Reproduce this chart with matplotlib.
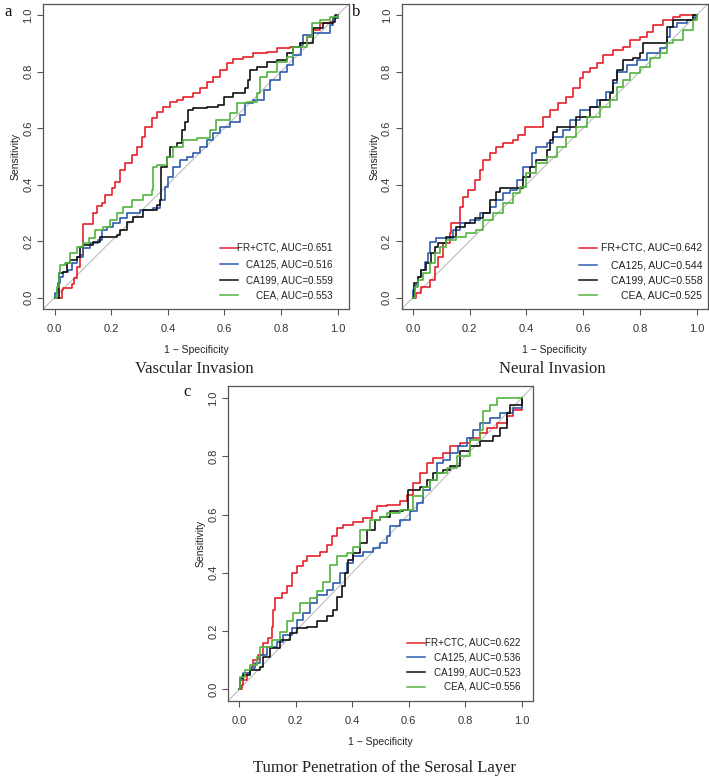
import matplotlib
matplotlib.use("Agg")
import matplotlib.pyplot as plt

# ---------------- data (FPR = 1 - specificity, TPR = sensitivity) ----------------
labels = ["FR+CTC", "CA125", "CA199", "CEA"]
colors = ["#e8202a", "#2f5cae", "#111111", "#52b43f"]
ticks = [0.0, 0.2, 0.4, 0.6, 0.8, 1.0]
tick_labels = ["0.0", "0.2", "0.4", "0.6", "0.8", "1.0"]

titles = ["Vascular Invasion", "Neural Invasion", "Tumor Penetration of the Serosal Layer"]
panel_letters = ["a", "b", "c"]

auc_a = [0.651, 0.516, 0.559, 0.553]
auc_b = [0.642, 0.544, 0.558, 0.525]
auc_c = [0.622, 0.536, 0.523, 0.556]

# Panel a
a_red_x = [0, 0.025, 0.027, 0.031, 0.06, 0.07, 0.078, 0.09, 0.1, 0.102, 0.12, 0.137, 0.149, 0.167, 0.178, 0.202, 0.214, 0.231, 0.249, 0.272, 0.29, 0.308, 0.32, 0.343, 0.361, 0.384, 0.408, 0.432, 0.455, 0.49, 0.514, 0.537, 0.561, 0.585, 0.608, 0.632, 0.667, 0.702, 0.749, 0.784, 0.831, 0.867, 0.89, 0.914, 0.937, 0.973, 0.984, 1.0]
a_red_y = [0, 0, 0.027, 0.033, 0.05, 0.068, 0.11, 0.15, 0.19, 0.26, 0.26, 0.3, 0.324, 0.334, 0.363, 0.387, 0.41, 0.452, 0.475, 0.505, 0.534, 0.57, 0.605, 0.634, 0.658, 0.676, 0.693, 0.699, 0.711, 0.723, 0.741, 0.764, 0.782, 0.805, 0.829, 0.843, 0.853, 0.864, 0.87, 0.882, 0.886, 0.9, 0.923, 0.947, 0.97, 0.976, 0.988, 1.0]
a_blue_x = [0, 0, 0.008, 0.014, 0.019, 0.031, 0.048, 0.06, 0.078, 0.102, 0.125, 0.155, 0.167, 0.184, 0.208, 0.231, 0.255, 0.302, 0.349, 0.373, 0.39, 0.402, 0.42, 0.443, 0.467, 0.49, 0.514, 0.537, 0.561, 0.584, 0.62, 0.655, 0.673, 0.702, 0.739, 0.762, 0.796, 0.82, 0.843, 0.872, 0.879, 0.914, 0.961, 0.973, 0.984, 1.0]
a_blue_y = [0, 0.015, 0.027, 0.051, 0.074, 0.092, 0.098, 0.121, 0.145, 0.175, 0.192, 0.204, 0.24, 0.251, 0.263, 0.281, 0.298, 0.31, 0.316, 0.346, 0.393, 0.428, 0.463, 0.487, 0.499, 0.511, 0.534, 0.558, 0.581, 0.605, 0.623, 0.646, 0.688, 0.699, 0.735, 0.77, 0.8, 0.823, 0.858, 0.894, 0.929, 0.935, 0.935, 0.965, 0.988, 1.0]
a_black_x = [0, 0.017, 0.017, 0.031, 0.043, 0.055, 0.078, 0.09, 0.102, 0.137, 0.16, 0.22, 0.231, 0.255, 0.278, 0.314, 0.361, 0.373, 0.375, 0.396, 0.408, 0.432, 0.45, 0.461, 0.473, 0.49, 0.537, 0.579, 0.597, 0.632, 0.673, 0.685, 0.69, 0.714, 0.749, 0.785, 0.82, 0.843, 0.867, 0.914, 0.949, 0.984, 0.99, 1.0]
a_black_y = [0, 0, 0.086, 0.092, 0.121, 0.133, 0.145, 0.18, 0.186, 0.198, 0.213, 0.222, 0.24, 0.269, 0.287, 0.31, 0.328, 0.346, 0.463, 0.499, 0.534, 0.546, 0.593, 0.623, 0.664, 0.67, 0.676, 0.682, 0.711, 0.723, 0.741, 0.77, 0.805, 0.817, 0.835, 0.841, 0.864, 0.888, 0.9, 0.953, 0.97, 0.976, 1.0, 1.0]
a_green_x = [0, 0.008, 0.017, 0.019, 0.037, 0.055, 0.078, 0.102, 0.12, 0.143, 0.172, 0.196, 0.22, 0.243, 0.272, 0.314, 0.343, 0.349, 0.361, 0.396, 0.42, 0.455, 0.502, 0.549, 0.572, 0.62, 0.643, 0.678, 0.714, 0.725, 0.749, 0.784, 0.82, 0.843, 0.89, 0.908, 0.937, 0.973, 1.0]
a_green_y = [0, 0.039, 0.086, 0.116, 0.121, 0.157, 0.18, 0.192, 0.21, 0.24, 0.251, 0.275, 0.298, 0.322, 0.346, 0.363, 0.381, 0.463, 0.469, 0.499, 0.534, 0.558, 0.564, 0.593, 0.628, 0.652, 0.688, 0.693, 0.723, 0.782, 0.8, 0.835, 0.853, 0.888, 0.923, 0.97, 0.982, 0.994, 1.0]

# Panel b
b_red_x = [0, 0.012, 0.029, 0.059, 0.076, 0.088, 0.106, 0.129, 0.135, 0.153, 0.165, 0.176, 0.194, 0.218, 0.235, 0.247, 0.271, 0.294, 0.318, 0.353, 0.371, 0.394, 0.429, 0.459, 0.482, 0.512, 0.541, 0.565, 0.588, 0.6, 0.624, 0.647, 0.671, 0.706, 0.741, 0.765, 0.8, 0.824, 0.847, 0.882, 0.918, 0.941, 1.0]
b_red_y = [0, 0.015, 0.039, 0.062, 0.11, 0.145, 0.192, 0.228, 0.263, 0.263, 0.322, 0.357, 0.381, 0.416, 0.452, 0.487, 0.511, 0.534, 0.546, 0.558, 0.575, 0.605, 0.605, 0.64, 0.664, 0.688, 0.711, 0.741, 0.776, 0.8, 0.811, 0.829, 0.858, 0.876, 0.888, 0.912, 0.923, 0.941, 0.965, 0.982, 0.994, 1.0, 1.0]
b_blue_x = [0, 0, 0.006, 0.018, 0.029, 0.041, 0.053, 0.059, 0.082, 0.118, 0.141, 0.165, 0.2, 0.235, 0.271, 0.294, 0.318, 0.341, 0.365, 0.388, 0.418, 0.435, 0.471, 0.494, 0.529, 0.553, 0.588, 0.624, 0.647, 0.682, 0.706, 0.718, 0.753, 0.788, 0.824, 0.871, 0.894, 0.906, 0.929, 0.965, 0.994, 1.0]
b_blue_y = [0, 0.027, 0.045, 0.074, 0.098, 0.127, 0.157, 0.198, 0.21, 0.21, 0.24, 0.263, 0.275, 0.298, 0.322, 0.346, 0.369, 0.381, 0.416, 0.463, 0.511, 0.534, 0.546, 0.57, 0.593, 0.628, 0.664, 0.676, 0.699, 0.729, 0.758, 0.8, 0.823, 0.841, 0.864, 0.882, 0.923, 0.959, 0.97, 0.982, 0.994, 1.0]
b_black_x = [0, 0.004, 0.018, 0.029, 0.047, 0.065, 0.076, 0.088, 0.118, 0.153, 0.182, 0.218, 0.247, 0.271, 0.294, 0.306, 0.365, 0.388, 0.412, 0.435, 0.471, 0.482, 0.494, 0.506, 0.541, 0.576, 0.624, 0.659, 0.694, 0.706, 0.718, 0.741, 0.776, 0.8, 0.812, 0.859, 0.894, 0.918, 0.953, 0.988, 1.0]
b_black_y = [0, 0.051, 0.074, 0.098, 0.121, 0.157, 0.18, 0.192, 0.216, 0.251, 0.263, 0.281, 0.298, 0.346, 0.375, 0.387, 0.387, 0.428, 0.463, 0.487, 0.522, 0.558, 0.587, 0.605, 0.605, 0.64, 0.676, 0.699, 0.723, 0.77, 0.805, 0.841, 0.847, 0.864, 0.9, 0.9, 0.959, 0.982, 0.982, 1.0, 1.0]
b_green_x = [0, 0.006, 0.018, 0.035, 0.059, 0.076, 0.094, 0.118, 0.153, 0.188, 0.224, 0.247, 0.282, 0.318, 0.353, 0.376, 0.4, 0.435, 0.471, 0.506, 0.541, 0.576, 0.612, 0.659, 0.694, 0.718, 0.741, 0.765, 0.8, 0.835, 0.871, 0.894, 0.918, 0.953, 0.988, 1.0]
b_green_y = [0, 0.039, 0.062, 0.086, 0.121, 0.157, 0.18, 0.204, 0.216, 0.228, 0.24, 0.275, 0.298, 0.334, 0.369, 0.393, 0.44, 0.475, 0.499, 0.534, 0.57, 0.605, 0.64, 0.676, 0.699, 0.746, 0.77, 0.794, 0.817, 0.847, 0.864, 0.9, 0.912, 0.947, 0.982, 1.0]

# Panel c
c_red_x = [0, 0.008, 0.014, 0.026, 0.038, 0.05, 0.067, 0.085, 0.103, 0.115, 0.12, 0.126, 0.15, 0.168, 0.185, 0.203, 0.227, 0.238, 0.262, 0.286, 0.309, 0.327, 0.345, 0.368, 0.404, 0.439, 0.469, 0.486, 0.522, 0.569, 0.593, 0.616, 0.64, 0.663, 0.687, 0.723, 0.746, 0.781, 0.817, 0.852, 0.876, 0.911, 0.947, 0.97, 1.0, 1.0]
c_red_y = [0, 0.015, 0.032, 0.055, 0.078, 0.1, 0.118, 0.158, 0.175, 0.215, 0.273, 0.313, 0.33, 0.353, 0.399, 0.422, 0.439, 0.456, 0.456, 0.473, 0.496, 0.525, 0.553, 0.565, 0.576, 0.588, 0.611, 0.628, 0.633, 0.645, 0.668, 0.708, 0.742, 0.777, 0.794, 0.811, 0.834, 0.845, 0.863, 0.88, 0.897, 0.914, 0.937, 0.96, 0.977, 1.0]
c_blue_x = [0, 0.002, 0.014, 0.038, 0.055, 0.073, 0.097, 0.132, 0.156, 0.185, 0.203, 0.227, 0.25, 0.274, 0.309, 0.333, 0.357, 0.38, 0.404, 0.439, 0.475, 0.498, 0.522, 0.534, 0.569, 0.604, 0.628, 0.652, 0.675, 0.699, 0.723, 0.746, 0.776, 0.805, 0.829, 0.852, 0.888, 0.923, 0.959, 0.97, 1.0]
c_blue_y = [0, 0.032, 0.055, 0.072, 0.089, 0.118, 0.147, 0.164, 0.187, 0.21, 0.238, 0.261, 0.296, 0.324, 0.341, 0.364, 0.399, 0.433, 0.456, 0.473, 0.485, 0.502, 0.525, 0.559, 0.582, 0.611, 0.639, 0.685, 0.719, 0.777, 0.788, 0.811, 0.834, 0.863, 0.891, 0.914, 0.931, 0.948, 0.948, 0.966, 1.0]
c_black_x = [0, 0.002, 0.014, 0.038, 0.073, 0.085, 0.109, 0.144, 0.179, 0.203, 0.238, 0.274, 0.309, 0.333, 0.345, 0.362, 0.374, 0.386, 0.404, 0.427, 0.451, 0.481, 0.498, 0.534, 0.581, 0.599, 0.64, 0.663, 0.687, 0.723, 0.746, 0.782, 0.817, 0.852, 0.9, 0.923, 0.947, 0.959, 0.988, 1.0]
c_black_y = [0, 0.038, 0.049, 0.066, 0.078, 0.112, 0.141, 0.17, 0.192, 0.21, 0.215, 0.233, 0.25, 0.273, 0.318, 0.353, 0.399, 0.444, 0.467, 0.502, 0.548, 0.582, 0.593, 0.611, 0.616, 0.685, 0.696, 0.719, 0.742, 0.754, 0.765, 0.817, 0.834, 0.851, 0.868, 0.897, 0.948, 0.977, 0.977, 1.0]
c_green_x = [0, 0.002, 0.02, 0.038, 0.061, 0.073, 0.115, 0.144, 0.168, 0.191, 0.215, 0.25, 0.274, 0.298, 0.321, 0.345, 0.38, 0.404, 0.427, 0.463, 0.498, 0.522, 0.569, 0.616, 0.652, 0.675, 0.699, 0.734, 0.77, 0.817, 0.852, 0.864, 0.888, 0.911, 1.0]
c_green_y = [0, 0.044, 0.066, 0.084, 0.112, 0.147, 0.17, 0.198, 0.233, 0.261, 0.296, 0.313, 0.336, 0.37, 0.427, 0.456, 0.467, 0.49, 0.548, 0.582, 0.593, 0.605, 0.616, 0.662, 0.696, 0.719, 0.742, 0.759, 0.8, 0.857, 0.891, 0.954, 0.977, 1.0, 1.0]

panels = [
    ([(a_red_x, a_red_y), (a_blue_x, a_blue_y), (a_black_x, a_black_y), (a_green_x, a_green_y)], auc_a),
    ([(b_red_x, b_red_y), (b_blue_x, b_blue_y), (b_black_x, b_black_y), (b_green_x, b_green_y)], auc_b),
    ([(c_red_x, c_red_y), (c_blue_x, c_blue_y), (c_black_x, c_black_y), (c_green_x, c_green_y)], auc_c),
]

# ---------------- layout ----------------
W, H = 709, 778
fig = plt.figure(figsize=(W / 100, H / 100), dpi=100)

def px_axes(left, top, right, bottom):
    return [left / W, 1 - bottom / H, (right - left) / W, (bottom - top) / H]

axes_px = [(43.2, 3.7, 349.0, 309.0), (401.6, 3.7, 708.0, 309.0), (228.0, 386.3, 533.0, 701.0)]
legend_pos = [  # line x0, line x1, text right, row y's (axes fraction)
    (0.578, 0.637, 0.947, [0.200, 0.146, 0.094, 0.045]),
    (0.580, 0.639, 0.982, [0.200, 0.144, 0.094, 0.045]),
    (0.586, 0.646, 0.960, [0.185, 0.139, 0.092, 0.046]),
]
legend_fs = [7.1, 7.6, 7.1]
title_pos = [(194, 369), (552, 369), (384, 768)]
letter_pos = [(4, 12), (352, 12), (183, 392)]

sans = "Liberation Sans"
serif = "Liberation Serif"
frame_col = "#555555"

for i, (curves, aucs) in enumerate(panels):
    ax = fig.add_axes(px_axes(*axes_px[i]))
    ax.set_xlim(-0.04, 1.04)
    ax.set_ylim(-0.04, 1.04)
    ax.plot([-0.04, 1.04], [-0.04, 1.04], color="#bdbdbd", lw=0.8, zorder=1)
    for (x, y), col in zip(curves, colors):
        ax.plot(x, y, color=col, lw=1.2, drawstyle="steps-post", zorder=2)
    for sp in ax.spines.values():
        sp.set_color(frame_col)
        sp.set_linewidth(0.9)
    ax.set_xticks(ticks)
    ax.set_xticklabels(tick_labels, fontfamily=sans, fontsize=8, color="#333333")
    ax.set_yticks(ticks)
    ax.set_yticklabels(tick_labels, fontfamily=sans, fontsize=8, color="#333333",
                       rotation=90, va="center")
    ax.tick_params(direction="out", length=4.5, width=0.8, color=frame_col)
    ax.tick_params(axis="x", pad=6.5)
    ax.tick_params(axis="y", pad=2.5)
    ax.set_xlabel("1 \u2212 Specificity", fontfamily=sans, fontsize=7.5, color="#222222", labelpad=8)
    ax.set_ylabel("Sensitivity", fontfamily=sans, fontsize=7.5, color="#222222", labelpad=2)

    lx0, lx1, tr, rows = legend_pos[i]
    for lab, auc, col, ry in zip(labels, aucs, colors, rows):
        ax.plot([lx0, lx1], [ry, ry], color=col, lw=1.1, transform=ax.transAxes)
        ax.text(tr, ry, f"{lab}, AUC={auc:.3f}", transform=ax.transAxes,
                ha="right", va="center", fontfamily=sans, fontsize=legend_fs[i], color="#222222")

    tx, ty = title_pos[i]
    fig.text(tx / W, 1 - ty / H, titles[i], ha="center", va="center",
             fontfamily=serif, fontsize=12, color="#222222")
    lx, ly = letter_pos[i]
    fig.text(lx / W, 1 - ly / H, panel_letters[i], ha="left", va="center",
             fontfamily=serif, fontsize=12, color="#111111")

fig.savefig("out.png", dpi=100)
